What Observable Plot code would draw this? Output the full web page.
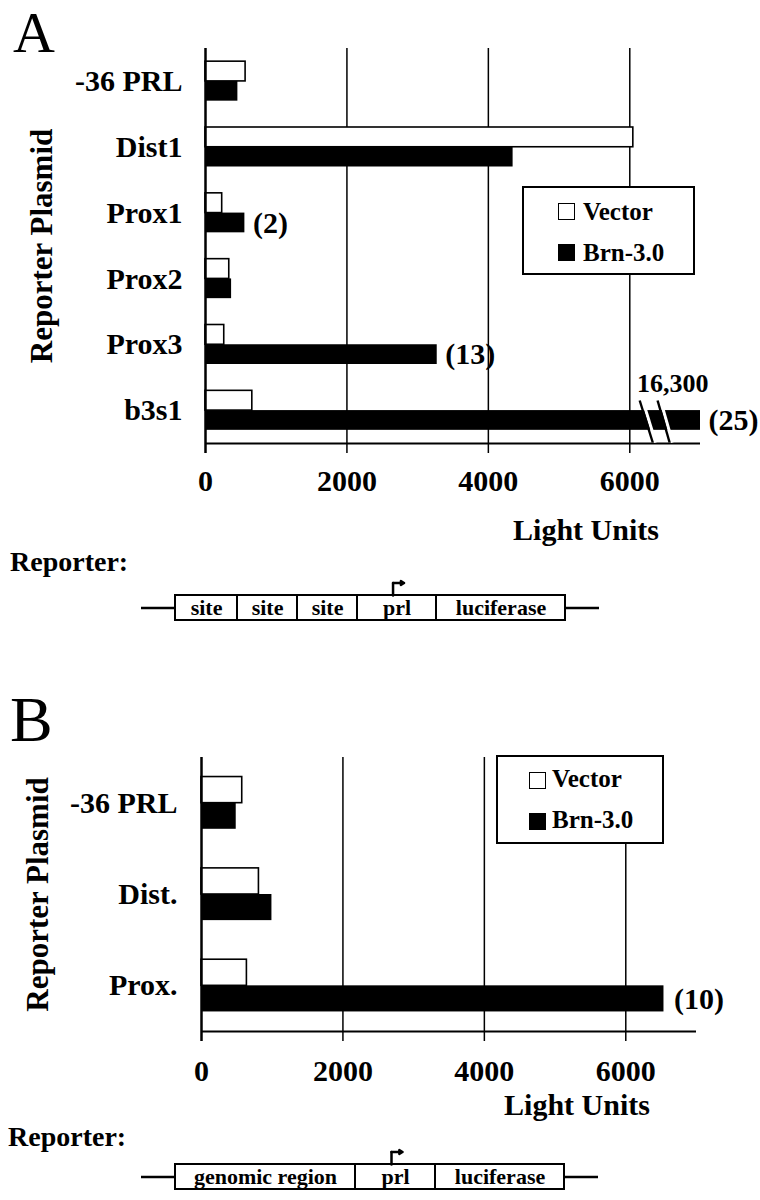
<!DOCTYPE html>
<html><head><meta charset="utf-8">
<script src="https://cdn.jsdelivr.net/npm/d3@7"></script>
<script src="https://cdn.jsdelivr.net/npm/@observablehq/plot@0.6"></script>
<style>
html,body{margin:0;padding:0;background:#fff;}
#root{position:relative;width:760px;height:1200px;overflow:hidden;font-family:'Liberation Serif','Times New Roman',serif;color:#000;background:#fff;}
#root svg{position:absolute;left:0;overflow:visible;}
.ov{position:absolute;line-height:1;white-space:nowrap;}
.letter{font-weight:normal;}
.reporter{font-weight:bold;font-size:28px;}
.legend{position:absolute;background:#fff;border:2px solid #000;box-sizing:border-box;}
.legend .sw{position:absolute;width:17px;height:17px;box-sizing:border-box;border:1.5px solid #000;}
.legend .lb{position:absolute;font-weight:bold;font-size:25px;line-height:1;white-space:nowrap;}
</style></head><body><div id="root"></div>
<script>
// ---------- data ----------
const categoriesA = ["-36 PRL", "Dist1", "Prox1", "Prox2", "Prox3", "b3s1"];
const vectorA = [567, 6050, 236, 336, 265, 662];
const brnA = [458, 4350, 557, 369, 3277, 16300];
const foldA = ["", "", "(2)", "", "(13)", "(25)"];

const categoriesB = ["-36 PRL", "Dist.", "Prox."];
const vectorB = [576, 812, 642];
const brnB = [491, 996, 6540];
const foldB = ["", "", "(10)"];

const seriesNames = ["Vector", "Brn-3.0"];
const xTicks = [0, 2000, 4000, 6000];
const xMax = 7000;
const axisBreakA = [{x1: 6140, x2: 6325}, {x1: 6393, x2: 6563}]; // "\\" break on the b3s1 bar

const reporterALabels = ["site", "site", "site", "prl", "luciferase"];
const reporterALengths = [62, 60, 60, 79, 129];
const reporterBLabels = ["genomic region", "prl", "luciferase"];
const reporterBLengths = [180, 80, 129];

// ---------- helpers ----------
const FONT = "'Liberation Serif','Times New Roman',serif";
const root = document.getElementById("root");

function panel(cfg) {
  const n = cfg.categories.length;
  const rows = cfg.categories.map((c, i) => ({c, i, vector: cfg.vector[i], brn: cfg.brn[i], fold: cfg.fold[i]}));
  const H = cfg.barFrac;
  const clip = v => Math.min(v, xMax);
  const marks = [
    Plot.ruleX(xTicks.filter(d => d !== 0), {x: d => d, strokeWidth: 1.5, insetBottom: -10}),
    Plot.rect(rows, {x1: () => 0, x2: d => clip(d.vector), y1: d => d.i - H, y2: d => d.i, fill: "white", stroke: "black", strokeWidth: 1.6}),
    Plot.rect(rows, {x1: () => 0, x2: d => clip(d.brn), y1: d => d.i, y2: d => d.i + H, fill: "black"}),
    Plot.ruleX([0], {strokeWidth: 2.5, insetBottom: -10}),
    Plot.ruleY([n - 0.5], {strokeWidth: 2}),
    Plot.text(rows.filter(d => d.fold), {x: d => clip(d.brn), y: d => d.i + H / 2, text: "fold", dx: cfg.foldDx, textAnchor: "start", lineAnchor: "middle", fontSize: 30, fontWeight: "bold"}),
    Plot.text(["Reporter Plasmid"], {frameAnchor: "left", dx: cfg.ylabelDx, rotate: -90, textAnchor: "middle", lineAnchor: "middle", fontSize: 31, fontWeight: "bold"}),
    Plot.text(["Light Units"], {frameAnchor: "bottom-right", dx: cfg.xlabelDx, dy: cfg.xlabelDy, textAnchor: "middle", lineAnchor: "middle", fontSize: 30, fontWeight: "bold"})
  ];
  if (cfg.breaks) {
    const bi = rows.findIndex(d => d.brn > xMax);
    const br = cfg.breaks.map(b => ({...b, y1: bi - 0.153, y2: bi + 0.485}));
    marks.push(
      Plot.link(br, {x1: "x1", x2: "x2", y1: "y1", y2: "y2", stroke: "white", strokeWidth: 3, dx: 3}),
      Plot.link(br, {x1: "x1", x2: "x2", y1: "y1", y2: "y2", stroke: "black", strokeWidth: 2.4}),
      Plot.text([cfg.brn[bi]], {x: () => xMax, y: () => bi, text: d => d3.format(",")(d), dx: 8, dy: -27, textAnchor: "end", lineAnchor: "middle", fontSize: 26, fontWeight: "bold"})
    );
  }
  const svg = Plot.plot({
    width: 760, height: cfg.height,
    marginTop: cfg.mt, marginBottom: cfg.mb, marginLeft: cfg.ml, marginRight: cfg.mr,
    style: {fontFamily: FONT, fontWeight: "bold", fontSize: "30px", color: "black", background: "transparent", overflow: "visible"},
    x: {domain: [0, xMax], ticks: xTicks, tickFormat: d => String(d), tickSize: 0, tickPadding: cfg.xPad, label: null},
    y: {domain: [-0.5, n - 0.5], reverse: true, ticks: d3.range(n), tickFormat: i => cfg.categories[i], tickSize: 0, tickPadding: cfg.yPad, label: null},
    marks
  });
  svg.style.top = cfg.top + "px";
  root.appendChild(svg);
}

function reporter(labels, lengths, top) {
  const boxLeft = 175, leader = 34, promoterFrac = 0.45;
  let acc = 0;
  const segs = labels.map((label, i) => { const s = {label, x1: acc, x2: acc + lengths[i]}; acc += lengths[i]; return s; });
  const total = acc;
  const prl = segs[labels.indexOf("prl")];
  const px = prl.x1 + promoterFrac * (prl.x2 - prl.x1);
  const svg = Plot.plot({
    width: 760, height: 50, marginTop: 20, marginBottom: 5, marginLeft: boxLeft, marginRight: 760 - boxLeft - total,
    style: {fontFamily: FONT, fontWeight: "bold", fontSize: "22px", color: "black", background: "transparent", overflow: "visible"},
    x: {domain: [0, total], axis: null},
    y: {domain: [0, 1], axis: null},
    marks: [
      Plot.ruleY([{x1: -leader, x2: 0}, {x1: total, x2: total + leader}], {y: () => 0.5, x1: "x1", x2: "x2", strokeWidth: 2.5}),
      Plot.rect(segs, {x1: "x1", x2: "x2", y1: () => 0, y2: () => 1, fill: "white", stroke: "black", strokeWidth: 2}),
      Plot.text(segs, {x: d => (d.x1 + d.x2) / 2, y: () => 0.5, text: "label", fontSize: 22, fontWeight: "bold", lineAnchor: "middle"}),
      Plot.line([[px, 1], [px, 1.5]], {strokeWidth: 2.5}),
      Plot.arrow([{x1: px, x2: px + 11, y: 1.5}], {x1: "x1", x2: "x2", y1: "y", y2: "y", strokeWidth: 2.5, headLength: 7})
    ]
  });
  svg.style.top = top + "px";
  root.appendChild(svg);
}

function overlay(text, cls, left, top, size) {
  const d = document.createElement("div");
  d.className = "ov " + cls;
  d.textContent = text;
  d.style.left = left + "px";
  d.style.top = top + "px";
  if (size) d.style.fontSize = size + "px";
  root.appendChild(d);
}

function legend(left, top, w, sx, tx, rows) {
  const box = document.createElement("div");
  box.className = "legend";
  Object.assign(box.style, {left: left + "px", top: top + "px", width: w + "px", height: "89px"});
  seriesNames.forEach((name, i) => {
    const sw = document.createElement("div");
    sw.className = "sw";
    Object.assign(sw.style, {left: sx + "px", top: rows[i][0] + "px", background: i === 0 ? "#fff" : "#000"});
    const lb = document.createElement("div");
    lb.className = "lb";
    lb.textContent = name;
    Object.assign(lb.style, {left: tx + "px", top: rows[i][1] + "px"});
    box.appendChild(sw); box.appendChild(lb);
  });
  root.appendChild(box);
}

// ---------- panel A ----------
panel({categories: categoriesA, vector: vectorA, brn: brnA, fold: foldA, barFrac: 0.3,
  top: 0, height: 560, mt: 48, mb: 117, ml: 205, mr: 60, xPad: 26, yPad: 23,
  foldDx: 8, ylabelDx: -163, xlabelDx: -114.5, xlabelDy: 87, breaks: axisBreakA});
reporter(reporterALabels, reporterALengths, 575);

// ---------- panel B ----------
panel({categories: categoriesB, vector: vectorB, brn: brnB, fold: foldB, barFrac: 0.286,
  top: 700, height: 430, mt: 57, mb: 99, ml: 201, mr: 64, xPad: 28, yPad: 24,
  foldDx: 10, ylabelDx: -163, xlabelDx: -119.5, xlabelDy: 74});
reporter(reporterBLabels, reporterBLengths, 1144);

// ---------- overlays ----------
overlay("A", "letter", 13, 4, 58);
overlay("B", "letter", 10, 688, 64);
overlay("Reporter:", "reporter", 10, 548);
overlay("Reporter:", "reporter", 8, 1123);
legend(522, 186, 173, 34, 59, [[15, 11], [56, 52]]);
legend(496, 755, 168, 31, 54, [[15, 9], [56, 50]]);
</script></body></html>
